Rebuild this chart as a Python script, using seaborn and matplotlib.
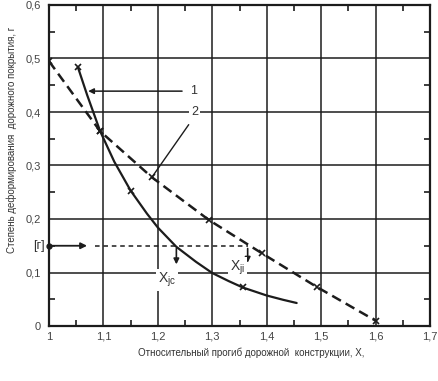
import numpy as np
import pandas as pd
import matplotlib
matplotlib.use("Agg")
import matplotlib.pyplot as plt
import seaborn as sns
from matplotlib.ticker import MultipleLocator, FuncFormatter

# Curve 1 (solid) and curve 2 (dashed)
x1 = [1.053, 1.07, 1.094, 1.12, 1.15, 1.18, 1.2, 1.234, 1.27, 1.30, 1.33, 1.356, 1.40, 1.43, 1.455]
r1 = [0.484, 0.432, 0.364, 0.307, 0.253, 0.21, 0.184, 0.148, 0.12, 0.099, 0.084, 0.072, 0.057, 0.049, 0.043]
marks1 = [0, 2, 4, 11]

x2 = [1.0, 1.094, 1.189, 1.294, 1.391, 1.492, 1.60]
r2 = [0.495, 0.364, 0.278, 0.198, 0.136, 0.073, 0.01]

r_allow = 0.15
x_jc = 1.234
x_ji = 1.365

ink = "#1c1c1c"

sns.set_style("white")
plt.rcParams["font.family"] = ["Liberation Sans", "DejaVu Sans"]

fig = plt.figure(figsize=(4.39, 3.81), dpi=100)
ax = fig.add_axes([49 / 439, 1 - 326 / 381, 381 / 439, 321 / 381])

df1 = pd.DataFrame({"x": x1, "r": r1})
df2 = pd.DataFrame({"x": x2, "r": r2})

sns.lineplot(data=df1, x="x", y="r", ax=ax, color=ink, lw=1.6, sort=False,
             marker="x", markersize=4, markeredgewidth=1.2, markeredgecolor=ink,
             markevery=marks1)
sns.lineplot(data=df2, x="x", y="r", ax=ax, color=ink, lw=1.8, sort=False,
             marker="x", markersize=5, markeredgewidth=1.2, markeredgecolor=ink)
ax.lines[-1].set_dashes((4, 2.2))

ax.set_xlim(1.0, 1.7)
ax.set_ylim(0, 0.6)
ax.xaxis.set_major_locator(MultipleLocator(0.1))
ax.yaxis.set_major_locator(MultipleLocator(0.1))
ax.xaxis.set_minor_locator(MultipleLocator(0.05))
ax.yaxis.set_minor_locator(MultipleLocator(0.05))


def comma(v, pos):
    s = f"{v:.1f}".rstrip("0").rstrip(".")
    return s.replace(".", ",")


ax.xaxis.set_major_formatter(FuncFormatter(comma))
ax.yaxis.set_major_formatter(FuncFormatter(comma))
ax.grid(True, which="major", color=ink, lw=1.1)
ax.tick_params(which="major", length=0, labelsize=8, labelcolor="#444444")
ax.tick_params(axis="x", which="major", pad=4)
ax.tick_params(axis="y", which="major", pad=6)
ax.tick_params(which="minor", direction="in", length=4, width=1.2, color=ink,
               top=True, right=True, bottom=True, left=True)
for sp in ax.spines.values():
    sp.set_color(ink)
    sp.set_linewidth(1.6)

ax.set_xlabel("")
ax.set_ylabel("")

# allowed deformation level [г]
ax.plot([1.0], [r_allow], "o", color=ink, ms=3.5, clip_on=False, zorder=5)
ax.annotate("", xy=(1.075, r_allow), xytext=(1.0, r_allow),
            arrowprops=dict(arrowstyle="-|>", color=ink, lw=1.3, mutation_scale=9))
ax.plot([1.085, x_ji], [r_allow, r_allow], color=ink, lw=1.1, dashes=(3, 2.5))
ax.text(0.993, r_allow, "[г]", ha="right", va="center", fontsize=9, color="#333333",
        clip_on=False)

# arrows down to X_jc and X_ji
ax.annotate("", xy=(x_jc, 0.11), xytext=(x_jc, r_allow),
            arrowprops=dict(arrowstyle="-|>", color=ink, lw=1.2, mutation_scale=8))
ax.annotate("", xy=(x_ji, 0.113), xytext=(x_ji, r_allow),
            arrowprops=dict(arrowstyle="-|>", color=ink, lw=1.2, mutation_scale=8))
box = dict(facecolor="white", edgecolor="none", pad=1.5)
ax.text(1.217, 0.086, "X$_{\\mathregular{jc}}$", ha="center", va="center", fontsize=10,
        color="#333333", bbox=box)
ax.text(1.347, 0.108, "X$_{\\mathregular{ji}}$", ha="center", va="center", fontsize=10,
        color="#333333", bbox=box)

# curve labels 1 and 2
ax.annotate("1", xy=(1.072, 0.439), xytext=(1.265, 0.439), ha="center", va="center",
            fontsize=9, color="#333333", bbox=box,
            arrowprops=dict(arrowstyle="-|>", color=ink, lw=1.1, mutation_scale=8,
                            shrinkA=4, shrinkB=0))
ax.annotate("2", xy=(1.189, 0.278), xytext=(1.268, 0.40), ha="center", va="center",
            fontsize=9, color="#333333", bbox=box,
            arrowprops=dict(arrowstyle="-", color=ink, lw=1.0, shrinkA=4, shrinkB=0,
                            connectionstyle="angle,angleA=180,angleB=55,rad=0"))

fig.text(12 / 439, 1 - 140 / 381, "Степень деформирования  дорожного покрытия, г",
         rotation=90, ha="center", va="center", fontsize=7, color="#333333")
fig.text(251 / 439, 1 - 353 / 381, "Относительный прогиб дорожной  конструкции, X,",
         ha="center", va="center", fontsize=7, color="#333333")

fig.savefig("out.png", dpi=100)
